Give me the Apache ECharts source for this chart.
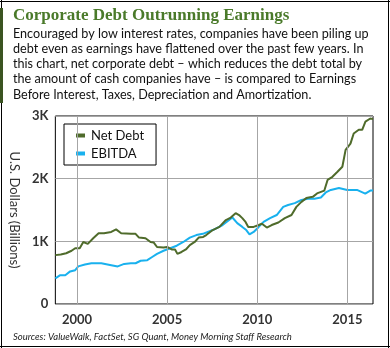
<!DOCTYPE html>
<html>
<head>
<meta charset="utf-8">
<script src="https://cdn.jsdelivr.net/npm/echarts@6/dist/echarts.min.js"></script>
<style>
  html, body { margin: 0; padding: 0; background: #fff; }
  #chart { width: 390px; height: 348px; }
</style>
</head>
<body>
<div id="chart"></div>
<script>
// Net corporate debt, U.S. dollars in billions (decimal year, value)
const debtYears = [1998.8, 1999.1, 1999.4, 1999.7, 1999.9, 2000.15, 2000.35, 2000.6, 2000.9, 2001.2, 2001.5, 2001.9, 2002.17, 2002.45, 2003.0, 2003.25, 2003.44, 2003.8, 2004.08, 2004.26, 2004.44, 2004.8, 2005.0, 2005.25, 2005.44, 2005.57, 2005.8, 2006.04, 2006.26, 2006.53, 2006.75, 2007.0, 2007.17, 2007.53, 2007.9, 2008.26, 2008.53, 2008.8, 2008.99, 2009.17, 2009.35, 2009.5, 2009.8, 2010.08, 2010.26, 2010.53, 2010.8, 2011.17, 2011.53, 2011.9, 2012.17, 2012.45, 2012.72, 2013.08, 2013.35, 2013.72, 2013.9, 2014.17, 2014.45, 2014.72, 2014.9, 2015.17, 2015.35, 2015.63, 2015.82, 2016.0, 2016.27, 2016.42];
const debtValues = [780, 790, 810, 850, 890, 890, 990, 960, 1050, 1130, 1130, 1150, 1190, 1130, 1120, 1120, 1060, 1050, 990, 980, 910, 900, 910, 870, 870, 800, 830, 870, 940, 990, 1060, 1070, 1100, 1180, 1230, 1340, 1380, 1450, 1420, 1370, 1310, 1230, 1230, 1260, 1280, 1220, 1260, 1300, 1370, 1420, 1550, 1630, 1690, 1710, 1770, 1810, 1980, 2030, 2110, 2190, 2460, 2560, 2720, 2780, 2780, 2910, 2960, 2950];

// EBITDA, U.S. dollars in billions
const ebitdaYears = [1998.8, 1999.07, 1999.35, 1999.62, 1999.9, 2000.07, 2000.44, 2000.8, 2001.35, 2001.9, 2002.26, 2002.62, 2002.99, 2003.25, 2003.53, 2003.9, 2004.17, 2004.44, 2004.8, 2005.17, 2005.53, 2005.9, 2006.26, 2006.62, 2006.98, 2007.53, 2008.08, 2008.44, 2008.62, 2008.89, 2009.17, 2009.39, 2009.57, 2009.8, 2010.08, 2010.35, 2010.71, 2011.08, 2011.44, 2011.71, 2012.08, 2012.45, 2012.81, 2013.17, 2013.53, 2013.8, 2014.08, 2014.53, 2014.99, 2015.53, 2015.99, 2016.27, 2016.42];
const ebitdaValues = [410, 460, 460, 520, 540, 600, 630, 650, 650, 620, 600, 640, 650, 650, 690, 700, 750, 800, 850, 890, 930, 990, 1060, 1100, 1120, 1180, 1260, 1340, 1380, 1290, 1230, 1180, 1110, 1150, 1230, 1310, 1370, 1420, 1550, 1580, 1610, 1660, 1680, 1680, 1700, 1780, 1820, 1850, 1820, 1820, 1760, 1810, 1810];

const yearTicks = [2000, 2005, 2010, 2015];
const valueTicks = [0, 1000, 2000, 3000];
const valueTickLabels = ['0', '1K', '2K', '3K'];

const seriesNames = ['Net Debt', 'EBITDA'];
const titleText = 'Corporate Debt Outrunning Earnings';
const bodyLines = [
  'Encouraged by low interest rates, companies have been piling up',
  'debt even as earnings have flattened over the past few years. In',
  'this chart, net corporate debt \u2013 which reduces the debt total by',
  'the amount of cash companies have \u2013 is compared to Earnings',
  'Before Interest, Taxes, Depreciation and Amortization.'
];
const sourceText = 'Sources: ValueWalk, FactSet, SG Quant, Money Morning Staff Research';
const yAxisTitle = 'U.S. Dollars (Billions)';

const GREEN = '#4f6b2b';
const BLUE = '#19b1ee';
const GRID = '#a6a6a6';

const zip = (xs, ys) => xs.map((x, i) => [x, ys[i]]);

const chart = echarts.init(document.getElementById('chart'), null, { renderer: 'canvas' });

const bodyFont = 'Lato, "Noto Sans", sans-serif';

chart.setOption({
  animation: false,
  backgroundColor: '#fff',
  textStyle: { fontFamily: bodyFont },
  grid: {
    left: 50, right: 17, top: 116, bottom: 44,
    show: true, borderColor: '#000', borderWidth: 1, backgroundColor: 'transparent'
  },
  legend: {
    orient: 'vertical',
    left: 64, top: 124,
    data: seriesNames,
    borderColor: '#000', borderWidth: 1,
    padding: [5, 12, 5, 12],
    itemWidth: 9, itemHeight: 4, itemGap: 5,
    icon: 'rect',
    textStyle: { fontSize: 13, color: '#111', fontFamily: bodyFont, padding: [0, 0, 0, 1] }
  },
  xAxis: {
    type: 'value',
    min: 1998.8, max: 2016.42,
    axisLine: { show: false },
    axisTick: { show: false },
    splitLine: { show: false },
    axisLabel: {
      customValues: yearTicks,
      formatter: v => String(v),
      margin: 9,
      fontSize: 13, fontWeight: 'bold', color: '#333', fontFamily: bodyFont
    }
  },
  yAxis: {
    type: 'value',
    min: 0, max: 3000, interval: 1000,
    name: yAxisTitle,
    nameLocation: 'middle',
    nameRotate: -90,
    nameGap: 30,
    nameTextStyle: { fontSize: 13, color: '#333', fontFamily: bodyFont },
    axisLine: { show: false },
    axisTick: { show: false },
    splitLine: { show: true, lineStyle: { color: GRID, width: 1 } },
    axisLabel: {
      margin: 7,
      fontSize: 13, fontWeight: 'bold', color: '#333', fontFamily: bodyFont,
      formatter: v => valueTickLabels[valueTicks.indexOf(v)]
    }
  },
  series: [
    {
      // vertical gridlines at the labelled years
      type: 'line', data: [], silent: true, z: 1,
      markLine: {
        silent: true, symbol: 'none', animation: false,
        label: { show: false },
        lineStyle: { color: GRID, width: 1, type: 'solid' },
        data: yearTicks.map(y => ({ xAxis: y }))
      }
    },
    {
      name: seriesNames[0], type: 'line', z: 3,
      data: zip(debtYears, debtValues),
      showSymbol: false, symbol: 'none',
      color: GREEN,
      lineStyle: { color: GREEN, width: 2 }
    },
    {
      name: seriesNames[1], type: 'line', z: 2,
      data: zip(ebitdaYears, ebitdaValues),
      showSymbol: false, symbol: 'none',
      color: BLUE,
      lineStyle: { color: BLUE, width: 2 }
    }
  ],
  graphic: [
    // outer frame
    { type: 'line', shape: { x1: 0, y1: 1.5, x2: 390, y2: 1.5 }, style: { stroke: '#000', lineWidth: 1 } },
    { type: 'line', shape: { x1: 388.5, y1: 0, x2: 388.5, y2: 348 }, style: { stroke: '#000', lineWidth: 1 } },
    { type: 'line', shape: { x1: 0, y1: 346.5, x2: 390, y2: 346.5 }, style: { stroke: '#000', lineWidth: 1 } },
    { type: 'line', shape: { x1: 1.5, y1: 0, x2: 1.5, y2: 348 }, style: { stroke: '#000', lineWidth: 1 } },
    { type: 'rect', shape: { x: 0, y: 8, width: 3, height: 95 }, style: { fill: '#3b5421' } },
    {
      type: 'text', left: 13, top: 7,
      style: { text: titleText, font: 'bold 17px "Liberation Serif", "DejaVu Serif", serif', fill: '#4a7a2a' }
    },
    ...bodyLines.map((t, i) => ({
      type: 'text', left: 13, top: 27 + i * 15.3,
      style: { text: t, font: '12.6px ' + bodyFont, fill: '#111' }
    })),
    {
      type: 'text', left: 13, top: 332,
      style: { text: sourceText, font: 'italic 9.5px ' + bodyFont, fill: '#222' }
    }
  ]
});
</script>
</body>
</html>
